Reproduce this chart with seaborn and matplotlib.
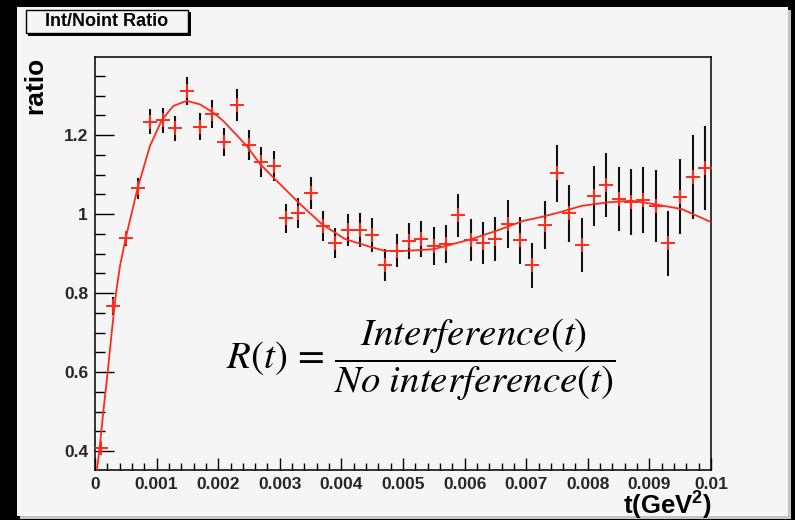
import numpy as np
import pandas as pd
import matplotlib
matplotlib.use("Agg")
import matplotlib.pyplot as plt
import seaborn as sns
from matplotlib.patches import Rectangle
from matplotlib.ticker import FixedLocator, MultipleLocator

# ---------------- data ----------------
t_bins = [0.0001, 0.0003, 0.0005, 0.0007, 0.0009, 0.0011, 0.0013, 0.0015, 0.0017, 0.0019,
          0.0021, 0.0023, 0.0025, 0.0027, 0.0029, 0.0031, 0.0033, 0.0035, 0.0037, 0.0039,
          0.0041, 0.0043, 0.0045, 0.0047, 0.0049, 0.0051, 0.0053, 0.0055, 0.0057, 0.0059,
          0.0061, 0.0063, 0.0065, 0.0067, 0.0069, 0.0071, 0.0073, 0.0075, 0.0077, 0.0079,
          0.0081, 0.0083, 0.0085, 0.0087, 0.0089, 0.0091, 0.0093, 0.0095, 0.0097, 0.0099]
ratio = [0.408, 0.767, 0.939, 1.065, 1.234, 1.238, 1.217, 1.312, 1.221, 1.253,
         1.183, 1.276, 1.174, 1.132, 1.121, 0.989, 1.002, 1.053, 0.970, 0.926,
         0.960, 0.960, 0.947, 0.871, 0.907, 0.932, 0.937, 0.920, 0.924, 0.997,
         0.934, 0.926, 0.937, 0.975, 0.934, 0.871, 0.972, 1.104, 1.002, 0.921,
         1.046, 1.073, 1.038, 1.030, 1.035, 1.021, 0.926, 1.044, 1.094, 1.116]
ratio_err = [0.010, 0.022, 0.019, 0.027, 0.032, 0.032, 0.032, 0.036, 0.034, 0.036,
             0.036, 0.040, 0.038, 0.038, 0.038, 0.036, 0.038, 0.040, 0.038, 0.038,
             0.040, 0.042, 0.042, 0.040, 0.042, 0.046, 0.046, 0.048, 0.048, 0.055,
             0.053, 0.053, 0.055, 0.061, 0.059, 0.057, 0.061, 0.072, 0.072, 0.068,
             0.076, 0.081, 0.081, 0.084, 0.084, 0.091, 0.082, 0.095, 0.106, 0.106]

# fit curve
fit_t = [0.0, 0.000030, 0.000070, 0.000135, 0.000206, 0.000271, 0.000341, 0.000406,
         0.000498, 0.000690, 0.000893, 0.001083, 0.001271, 0.001489, 0.001705, 0.001920,
         0.002083, 0.002463, 0.002679, 0.002894, 0.003300, 0.003680, 0.004058, 0.004492,
         0.004708, 0.005032, 0.005492, 0.005709, 0.006115, 0.006521, 0.006953, 0.007278,
         0.007549, 0.007901, 0.008333, 0.008713, 0.009091, 0.009524, 0.009956, 0.010000]
fit_r = [0.305, 0.352, 0.400, 0.500, 0.600, 0.700, 0.800, 0.869,
         0.939, 1.065, 1.173, 1.238, 1.274, 1.287, 1.278, 1.257,
         1.236, 1.173, 1.127, 1.093, 1.030, 0.975, 0.937, 0.916,
         0.907, 0.907, 0.911, 0.920, 0.937, 0.958, 0.983, 0.994,
         1.005, 1.021, 1.030, 1.034, 1.025, 1.013, 0.983, 0.980]

x_major = [0.0, 0.001, 0.002, 0.003, 0.004, 0.005, 0.006, 0.007, 0.008, 0.009, 0.01]
x_labels = ["0", "0.001", "0.002", "0.003", "0.004", "0.005", "0.006", "0.007", "0.008", "0.009", "0.01"]
y_major = [0.4, 0.6, 0.8, 1.0, 1.2]
y_labels = ["0.4", "0.6", "0.8", "1", "1.2"]

title_text = "Int/Noint Ratio"
ylabel_text = "ratio"
xlabel_text = r"t(GeV$^{\mathbf{2}}$)"
formula_text = r"$R(t)\,=\,\dfrac{Interference(t)}{No\ interference(t)}$"

# ---------------- style ----------------
sns.set_style("ticks")
plt.rcParams["font.family"] = ["Liberation Sans", "DejaVu Sans"]
plt.rcParams["mathtext.fontset"] = "custom"
plt.rcParams["mathtext.bf"] = "Liberation Sans:bold"
plt.rcParams["mathtext.rm"] = "Liberation Sans"

RED = "#ff2a1a"
BG = "#f5f5f5"
W, H = 795, 520

fig = plt.figure(figsize=(7.95, 5.20), dpi=100, facecolor="black")

def fx(px):
    return px / W

def fy(py):
    return 1 - py / H

# canvas shadow + canvas (behind the axes)
fig.patches.append(Rectangle((fx(20), fy(519)), (791 - 20) / W, (519 - 10) / H,
                             transform=fig.transFigure, facecolor="#c4c4c4",
                             edgecolor="none", zorder=-3))
fig.patches.append(Rectangle((fx(17), fy(516)), (788 - 17) / W, (516 - 7) / H,
                             transform=fig.transFigure, facecolor=BG,
                             edgecolor="none", zorder=-2))

# title box with shadow
fig.patches.append(Rectangle((fx(28), fy(35.5)), (190.5 - 28) / W, (35.5 - 12) / H,
                             transform=fig.transFigure, facecolor="black",
                             edgecolor="none", zorder=1))
fig.patches.append(Rectangle((fx(25.5), fy(33)), (188 - 25.5) / W, (33 - 10) / H,
                             transform=fig.transFigure, facecolor=BG,
                             edgecolor="black", linewidth=1.0, zorder=2))
fig.text(fx(106.5), fy(21.5), title_text, ha="center", va="center",
         fontsize=13, fontweight="bold", color="black", zorder=3)

ax = fig.add_axes([fx(95), fy(470), (711 - 95) / W, (470 - 57) / H])
ax.set_facecolor("none")

# error bars
ax.errorbar(t_bins, ratio, yerr=ratio_err, fmt="none", ecolor="#111111",
            elinewidth=1.5, capsize=0, zorder=2)

# fit curve
sns.lineplot(x=fit_t, y=fit_r, color=RED, linewidth=1.3, sort=False, ax=ax,
             zorder=3, estimator=None)

# markers
df = pd.DataFrame({"t": t_bins, "ratio": ratio})
sns.scatterplot(data=df, x="t", y="ratio", marker="+", s=95, color=RED,
                linewidth=1.4, ax=ax, zorder=4, legend=False)

ax.set_xlim(0.0, 0.01)
ax.set_ylim(0.352, 1.398)

ax.xaxis.set_major_locator(FixedLocator(x_major))
ax.set_xticklabels(x_labels)
ax.xaxis.set_minor_locator(MultipleLocator(0.0002))
ax.yaxis.set_major_locator(FixedLocator(y_major))
ax.set_yticklabels(y_labels)
ax.yaxis.set_minor_locator(MultipleLocator(0.05))

ax.tick_params(axis="x", which="major", direction="in", length=9, width=1.0,
               bottom=True, top=False, labelsize=12.5, pad=5, color="black")
ax.tick_params(axis="x", which="minor", direction="in", length=5, width=1.0,
               bottom=True, top=False, color="black")
ax.tick_params(axis="y", which="major", direction="in", length=13.5, width=1.0,
               left=True, right=False, labelsize=12.5, pad=5, color="black")
ax.tick_params(axis="y", which="minor", direction="in", length=7, width=1.0,
               left=True, right=False, color="black")
for lab in ax.get_xticklabels() + ax.get_yticklabels():
    lab.set_fontweight("bold")

for side in ["left", "right", "top", "bottom"]:
    ax.spines[side].set_visible(True)
    ax.spines[side].set_color("black")
    ax.spines[side].set_linewidth(1.1)

ax.set_xlabel("")
ax.set_ylabel("")

fig.text(fx(35.5), fy(57), ylabel_text, rotation=90, ha="center", va="top",
         fontsize=19, fontweight="bold", color="black")
fig.text(fx(711.5), fy(513.5), xlabel_text, ha="right", va="baseline",
         fontsize=18.5, fontweight="bold", color="black")

fig.text(fx(421), fy(360), formula_text, ha="center", va="center",
         fontsize=28, color="black", math_fontfamily="stix")

fig.savefig("out.png", dpi=100, facecolor=fig.get_facecolor())
